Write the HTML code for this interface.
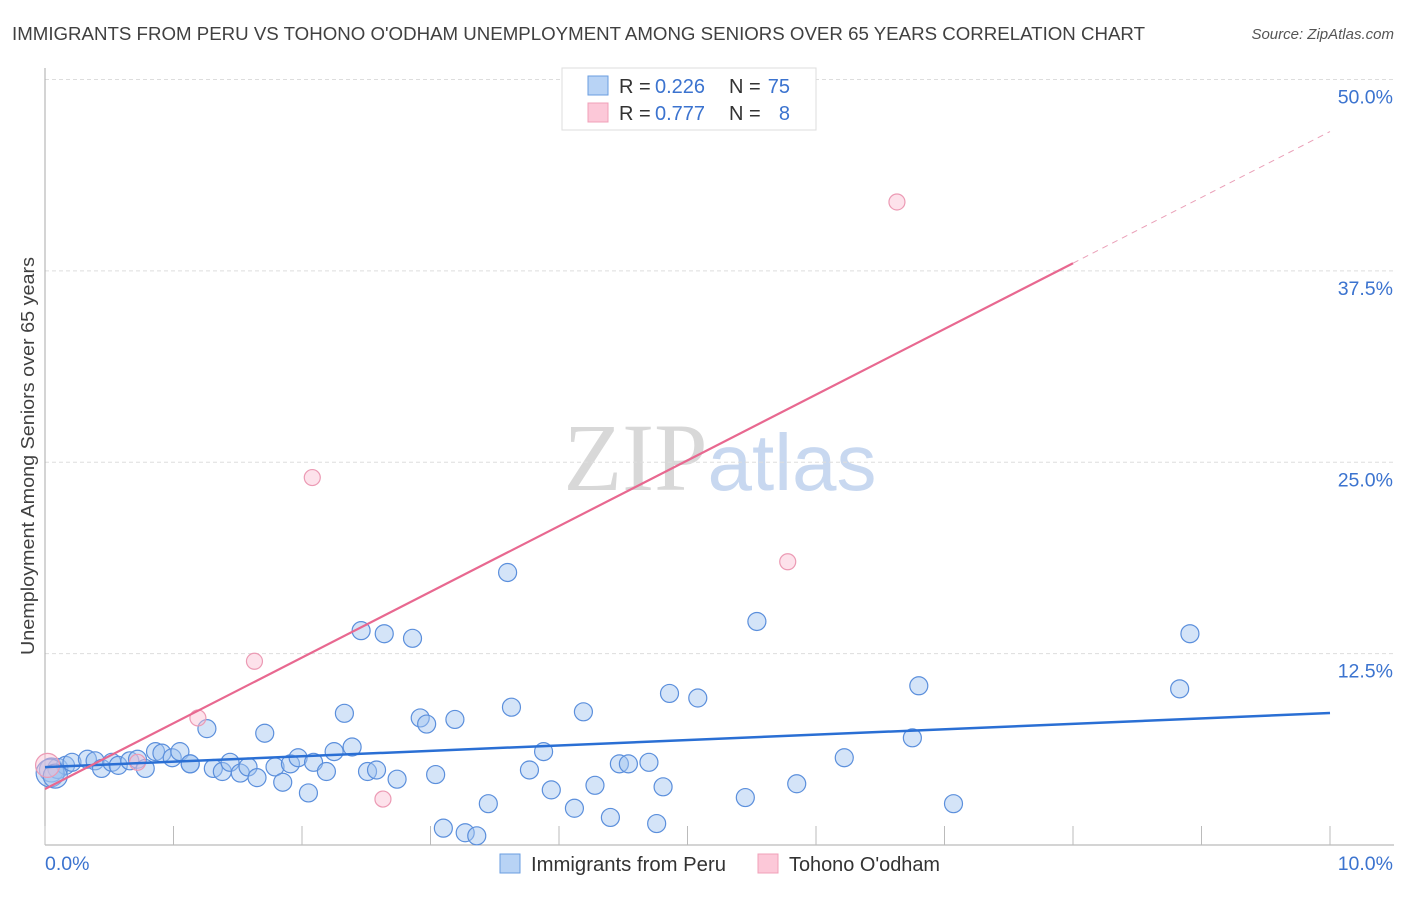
<!DOCTYPE html>
<html><head><meta charset="utf-8"><style>
body{margin:0;background:#fff;font-family:"Liberation Sans",sans-serif;}
</style></head><body>
<svg id="chart" width="1406" height="892" xmlns="http://www.w3.org/2000/svg" font-family="Liberation Sans, sans-serif">
<text x="12" y="40" font-size="18" fill="#404040" textLength="1133" lengthAdjust="spacingAndGlyphs">IMMIGRANTS FROM PERU VS TOHONO O'ODHAM UNEMPLOYMENT AMONG SENIORS OVER 65 YEARS CORRELATION CHART</text>
<text x="1394" y="39" font-size="15" fill="#555" font-style="italic" text-anchor="end">Source: ZipAtlas.com</text>
<text x="720" y="490" font-size="96" text-anchor="middle"><tspan fill="#d8d8d8" font-family="Liberation Serif, serif">ZIP</tspan><tspan fill="#c8d8f0" font-size="80">atlas</tspan></text>
<text transform="translate(34,456) rotate(-90)" font-size="18" fill="#404040" text-anchor="middle" textLength="398" lengthAdjust="spacingAndGlyphs">Unemployment Among Seniors over 65 years</text>
<g id="grid"></g><g id="axes"></g><g id="marks"></g>
<g font-size="20">
<rect x="562" y="68" width="254" height="62" fill="#fff" stroke="#ddd"/>
<rect x="588" y="76" width="20" height="19" fill="#b8d3f5" stroke="#6a9ee0"/>
<rect x="588" y="103" width="20" height="19" fill="#fcc8d8" stroke="#f0a0b8"/>
<text x="619" y="93" fill="#333">R =</text><text x="655" y="93" fill="#3b73cf">0.226</text>
<text x="729" y="93" fill="#333">N =</text><text x="790" y="93" fill="#3b73cf" text-anchor="end">75</text>
<text x="619" y="120" fill="#333">R =</text><text x="655" y="120" fill="#3b73cf">0.777</text>
<text x="729" y="120" fill="#333">N =</text><text x="790" y="120" fill="#3b73cf" text-anchor="end">8</text>
</g>
<g>
<rect x="500" y="854" width="20" height="19" fill="#b8d3f5" stroke="#6a9ee0"/>
<text x="531" y="871" font-size="20" fill="#333" textLength="195" lengthAdjust="spacingAndGlyphs">Immigrants from Peru</text>
<rect x="758" y="854" width="20" height="19" fill="#fcc8d8" stroke="#f0a0b8"/>
<text x="789" y="871" font-size="20" fill="#333" textLength="151" lengthAdjust="spacingAndGlyphs">Tohono O'odham</text>
</g>
</svg>
<script>
const yTicks=[12.5,25,37.5,50];
const yTickLabels=["12.5%","25.0%","37.5%","50.0%"];
const xTicks=[0,1,2,3,4,5,6,7,8,9,10];
const peruX=[0.05,0.1,0.16,0.21,0.33,0.39,0.44,0.52,0.57,0.66,0.72,0.78,0.86,0.91,0.99,1.05,1.13,1.13,1.26,1.31,1.38,1.44,1.52,1.58,1.65,1.71,1.79,1.85,1.91,1.97,2.05,2.09,2.19,2.25,2.33,2.39,2.46,2.51,2.58,2.64,2.74,2.86,2.92,2.97,3.04,3.10,3.19,3.27,3.36,3.45,3.6,3.63,3.77,3.88,3.94,4.12,4.19,4.28,4.40,4.47,4.54,4.70,4.76,4.81,4.86,5.08,5.45,5.54,5.85,6.22,6.75,6.80,7.07,8.83,8.91,0.04,0.08];
const peruY=[4.9,5.0,5.2,5.4,5.6,5.5,5.0,5.4,5.2,5.5,5.6,5.0,6.1,6.0,5.7,6.1,5.3,5.3,7.6,5.0,4.8,5.4,4.7,5.1,4.4,7.3,5.1,4.1,5.3,5.7,3.4,5.4,4.8,6.1,8.6,6.4,14.0,4.8,4.9,13.8,4.3,13.5,8.3,7.9,4.6,1.1,8.2,0.8,0.6,2.7,17.8,9.0,4.9,6.1,3.6,2.4,8.7,3.9,1.8,5.3,5.3,5.4,1.4,3.8,9.9,9.6,3.1,14.6,4.0,5.7,7.0,10.4,2.7,10.2,13.8,4.7,4.5];
const peruR=[12,10,9,9,9,9,9,9,9,9,9,9,9,9,9,9,9,9,9,9,9,9,9,9,9,9,9,9,9,9,9,9,9,9,9,9,9,9,9,9,9,9,9,9,9,9,9,9,9,9,9,9,9,9,9,9,9,9,9,9,9,9,9,9,9,9,9,9,9,9,9,9,9,9,9,14,12];
const toX=[0.02,0.72,1.19,1.63,2.08,2.63,5.78,6.63];
const toY=[5.2,5.4,8.3,12.0,24.0,3.0,18.5,42.0];
const peruTrend=[[0,5.09],[10,8.62]];
const toTrend=[[0,3.66],[8.0,38.0],[10,46.6]];
const X=v=>45+v*128.5, Y=v=>845-v*15.31;
const NS="http://www.w3.org/2000/svg";
function mk(parent,tag,attrs){const e=document.createElementNS(NS,tag);for(const k in attrs)e.setAttribute(k,attrs[k]);document.getElementById(parent).appendChild(e);return e;}
yTicks.forEach((t,i)=>{
 const l=mk('grid','line',{x1:45,x2:1394,y1:Y(t),y2:Y(t),stroke:'#ddd','stroke-dasharray':'4,3'});
 
 
 const tx=mk('axes','text',{x:1393,y:Y(t)+24,'font-size':19.5,fill:'#3b73cf','text-anchor':'end'});
 tx.textContent=yTickLabels[i];
 
 
});
let a=mk('axes','line',{x1:45,x2:45,y1:68,y2:845,stroke:'#aaa'});


a=mk('axes','line',{x1:45,x2:1394,y1:845,y2:845,stroke:'#aaa'});


xTicks.forEach(t=>{
 const l=mk('axes','line',{x1:X(t),x2:X(t),y1:826,y2:845,stroke:'#bbb'});
 
 
});
let t0=mk('axes','text',{x:45,y:870,'font-size':19.5,fill:'#3b73cf'});t0.textContent='0.0%';


let t1=mk('axes','text',{x:1393,y:870,'font-size':19.5,fill:'#3b73cf','text-anchor':'end'});t1.textContent='10.0%';


peruX.forEach((v,i)=>{
 const c=mk('marks','circle',{cx:X(v),cy:Y(peruY[i]),r:peruR[i],fill:'rgba(160,196,240,0.45)',stroke:'#5b8fdc','stroke-width':1.2});
 
 
});
toX.forEach((v,i)=>{
 const c=mk('marks','circle',{cx:X(v),cy:Y(toY[i]),r:i==0?12:8,fill:'rgba(250,190,210,0.45)',stroke:'#ec9ab4','stroke-width':1.2});
 
 
});
let l=mk('marks','line',{x1:X(peruTrend[0][0]),y1:Y(peruTrend[0][1]),x2:X(peruTrend[1][0]),y2:Y(peruTrend[1][1]),stroke:'#2a6fd4','stroke-width':2.5});


l=mk('marks','line',{x1:X(toTrend[0][0]),y1:Y(toTrend[0][1]),x2:X(toTrend[1][0]),y2:Y(toTrend[1][1]),stroke:'#e86890','stroke-width':2.2});


l=mk('marks','line',{x1:X(toTrend[1][0]),y1:Y(toTrend[1][1]),x2:X(toTrend[2][0]),y2:Y(toTrend[2][1]),stroke:'#eaa0b8','stroke-width':1,'stroke-dasharray':'6,5'});


</script>
</body></html>
